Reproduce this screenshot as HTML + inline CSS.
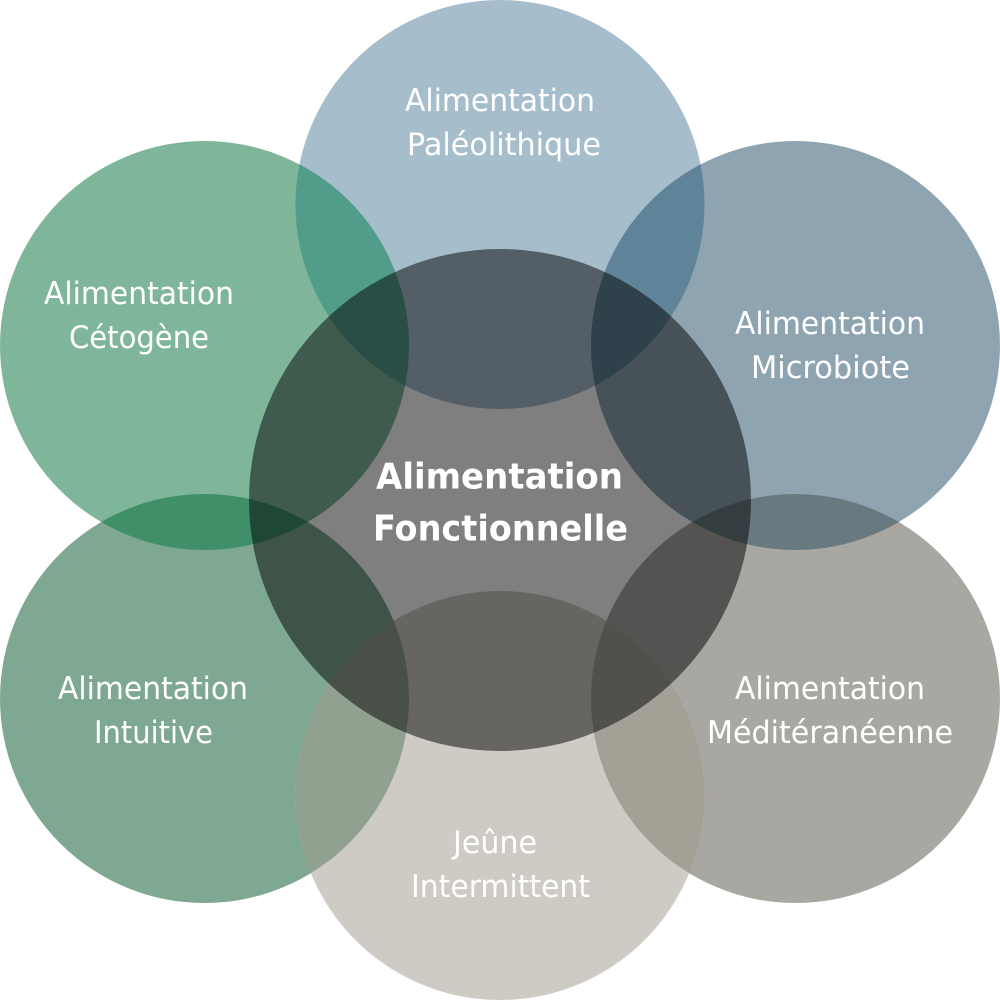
<!DOCTYPE html>
<html><head><meta charset="utf-8">
<style>
html,body{margin:0;padding:0;background:#fff}
svg{display:block}
text{font-family:"DejaVu Sans","Liberation Sans",sans-serif;fill:#fff;font-size:31px}
text.b{font-weight:bold;font-size:36px}
</style></head><body>
<svg width="1000" height="1000" viewBox="0 0 1000 1000" xmlns="http://www.w3.org/2000/svg">
<defs>
<clipPath id="cTop"><circle cx="500" cy="204.5" r="204.5"/></clipPath>
<clipPath id="cBL"><circle cx="204.5" cy="698.5" r="204.5"/></clipPath>
<clipPath id="cBR"><circle cx="795.5" cy="698.5" r="204.5"/></clipPath>
</defs>
<rect width="1000" height="1000" fill="#fff"/>
<circle cx="500" cy="204.5" r="204.5" fill="#A6BDCC"/>
<circle cx="204.5" cy="345.5" r="204.5" fill="#7FB69A"/>
<circle cx="795.5" cy="345.5" r="204.5" fill="#8FA4B1"/>
<circle cx="204.5" cy="698.5" r="204.5" fill="#7FA893"/>
<circle cx="795.5" cy="698.5" r="204.5" fill="#A9A7A2"/>
<circle cx="500" cy="795.5" r="204.5" fill="#CECBC4"/>
<circle cx="204.5" cy="345.5" r="204.5" fill="#519D8A" clip-path="url(#cTop)"/>
<circle cx="795.5" cy="345.5" r="204.5" fill="#5F8499" clip-path="url(#cTop)"/>
<circle cx="204.5" cy="345.5" r="204.5" fill="#3F9068" clip-path="url(#cBL)"/>
<circle cx="795.5" cy="345.5" r="204.5" fill="#687A80" clip-path="url(#cBR)"/>
<circle cx="500" cy="795.5" r="204.5" fill="#91A18F" clip-path="url(#cBL)"/>
<circle cx="500" cy="795.5" r="204.5" fill="#A3A196" clip-path="url(#cBR)"/>
<circle cx="500" cy="500" r="251" fill="#000" fill-opacity="0.5"/>
<text x="405" y="111" textLength="190" lengthAdjust="spacingAndGlyphs">Alimentation</text>
<text x="407" y="155" textLength="194" lengthAdjust="spacingAndGlyphs">Paléolithique</text>
<text x="44" y="304" textLength="190" lengthAdjust="spacingAndGlyphs">Alimentation</text>
<text x="69" y="348" textLength="140" lengthAdjust="spacingAndGlyphs">Cétogène</text>
<text x="735" y="334" textLength="190" lengthAdjust="spacingAndGlyphs">Alimentation</text>
<text x="751" y="378" textLength="159" lengthAdjust="spacingAndGlyphs">Microbiote</text>
<text x="58" y="699" textLength="190" lengthAdjust="spacingAndGlyphs">Alimentation</text>
<text x="94" y="743" textLength="119" lengthAdjust="spacingAndGlyphs">Intuitive</text>
<text x="735" y="699" textLength="190" lengthAdjust="spacingAndGlyphs">Alimentation</text>
<text x="707" y="743" textLength="246" lengthAdjust="spacingAndGlyphs">Méditéranéenne</text>
<text x="453" y="853" textLength="84" lengthAdjust="spacingAndGlyphs">Jeûne</text>
<text x="411" y="897" textLength="179" lengthAdjust="spacingAndGlyphs">Intermittent</text>
<text class="b" x="376" y="488.5" textLength="247" lengthAdjust="spacingAndGlyphs">Alimentation</text>
<text class="b" x="373" y="540.5" textLength="255" lengthAdjust="spacingAndGlyphs">Fonctionnelle</text>
</svg>
</body></html>
